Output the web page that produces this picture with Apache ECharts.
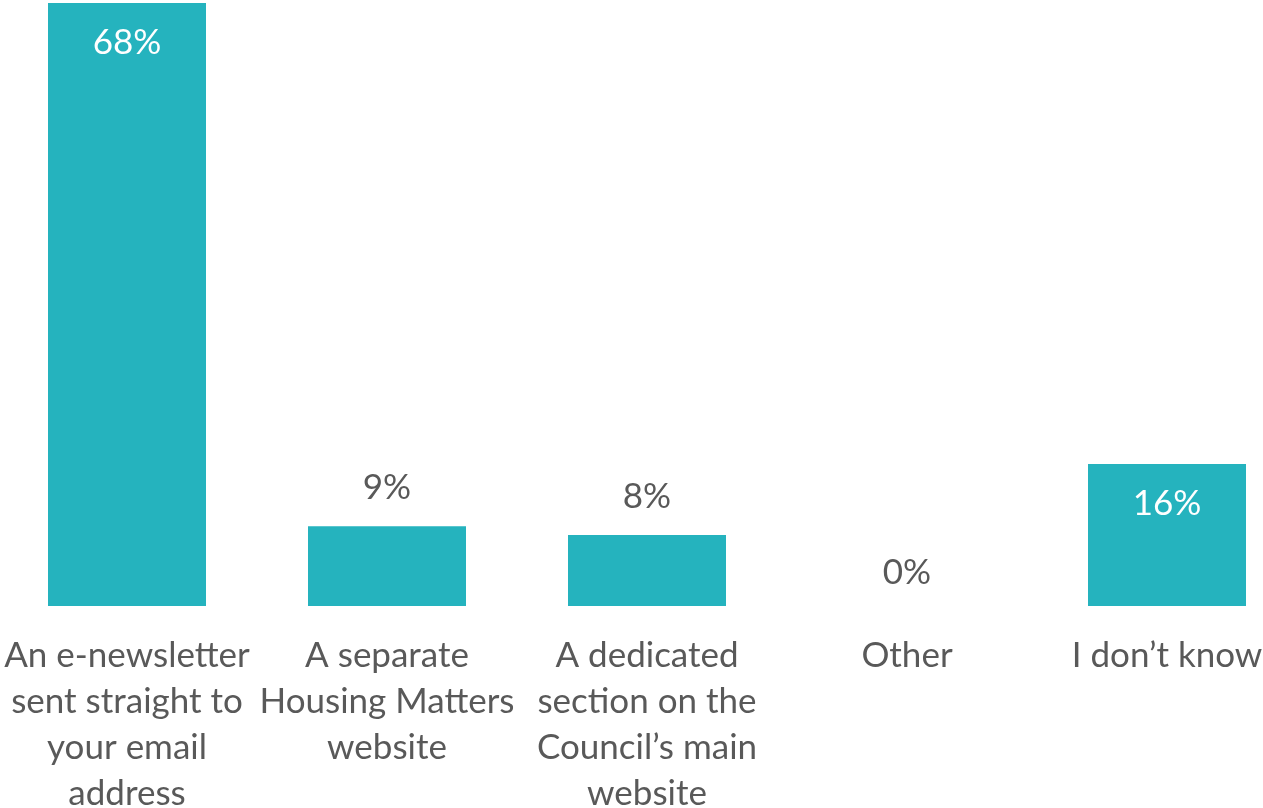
<!DOCTYPE html>
<html>
<head>
<meta charset="utf-8">
<script src="https://cdn.jsdelivr.net/npm/echarts@6/dist/echarts.min.js"></script>
<style>
  html, body { margin: 0; padding: 0; background: #ffffff; }
  #chart { width: 1263px; height: 808px; }
</style>
</head>
<body>
<div id="chart"></div>
<script>
// Preferred way to receive Housing Matters updates (% of respondents)
const categories = [
  'An e-newsletter\nsent straight to\nyour email\naddress',
  'A separate\nHousing Matters\nwebsite',
  'A dedicated\nsection on the\nCouncil\u2019s main\nwebsite',
  'Other',
  'I don\u2019t know'
];
const shares = [68, 9, 8, 0, 16];
// Values large enough to hold their label inside the bar
const insideLabel = [true, false, false, false, true];

const BAR_COLOR = '#25B3BE';
const TEXT_COLOR = '#595959';
const FONT = 'Lato, "Open Sans", sans-serif';

const chart = echarts.init(document.getElementById('chart'), null, { renderer: 'canvas' });

const data = shares.map((v, i) => ({
  value: v,
  label: insideLabel[i]
    ? { position: 'insideTop', color: '#ffffff', distance: 22 }
    : { position: 'top', color: TEXT_COLOR, distance: v === 0 ? 16 : 21 }
}));

chart.setOption({
  animation: false,
  backgroundColor: '#ffffff',
  grid: {
    left: -3, width: 1300, top: 3, bottom: 202,
    containLabel: false,
    outerBoundsMode: 'none'
  },
  xAxis: {
    type: 'category',
    data: categories,
    axisLine: { show: false },
    axisTick: { show: false },
    axisLabel: {
      interval: 0,
      margin: 27,
      color: TEXT_COLOR,
      fontFamily: FONT,
      fontSize: 35,
      lineHeight: 46
    }
  },
  yAxis: {
    type: 'value',
    min: 0,
    max: 68,
    show: false,
    splitLine: { show: false }
  },
  series: [{
    type: 'bar',
    data: data,
    barWidth: 158,
    itemStyle: { color: BAR_COLOR },
    label: {
      show: true,
      formatter: '{c}%',
      fontFamily: FONT,
      fontSize: 35
    }
  }]
});
</script>
</body>
</html>
